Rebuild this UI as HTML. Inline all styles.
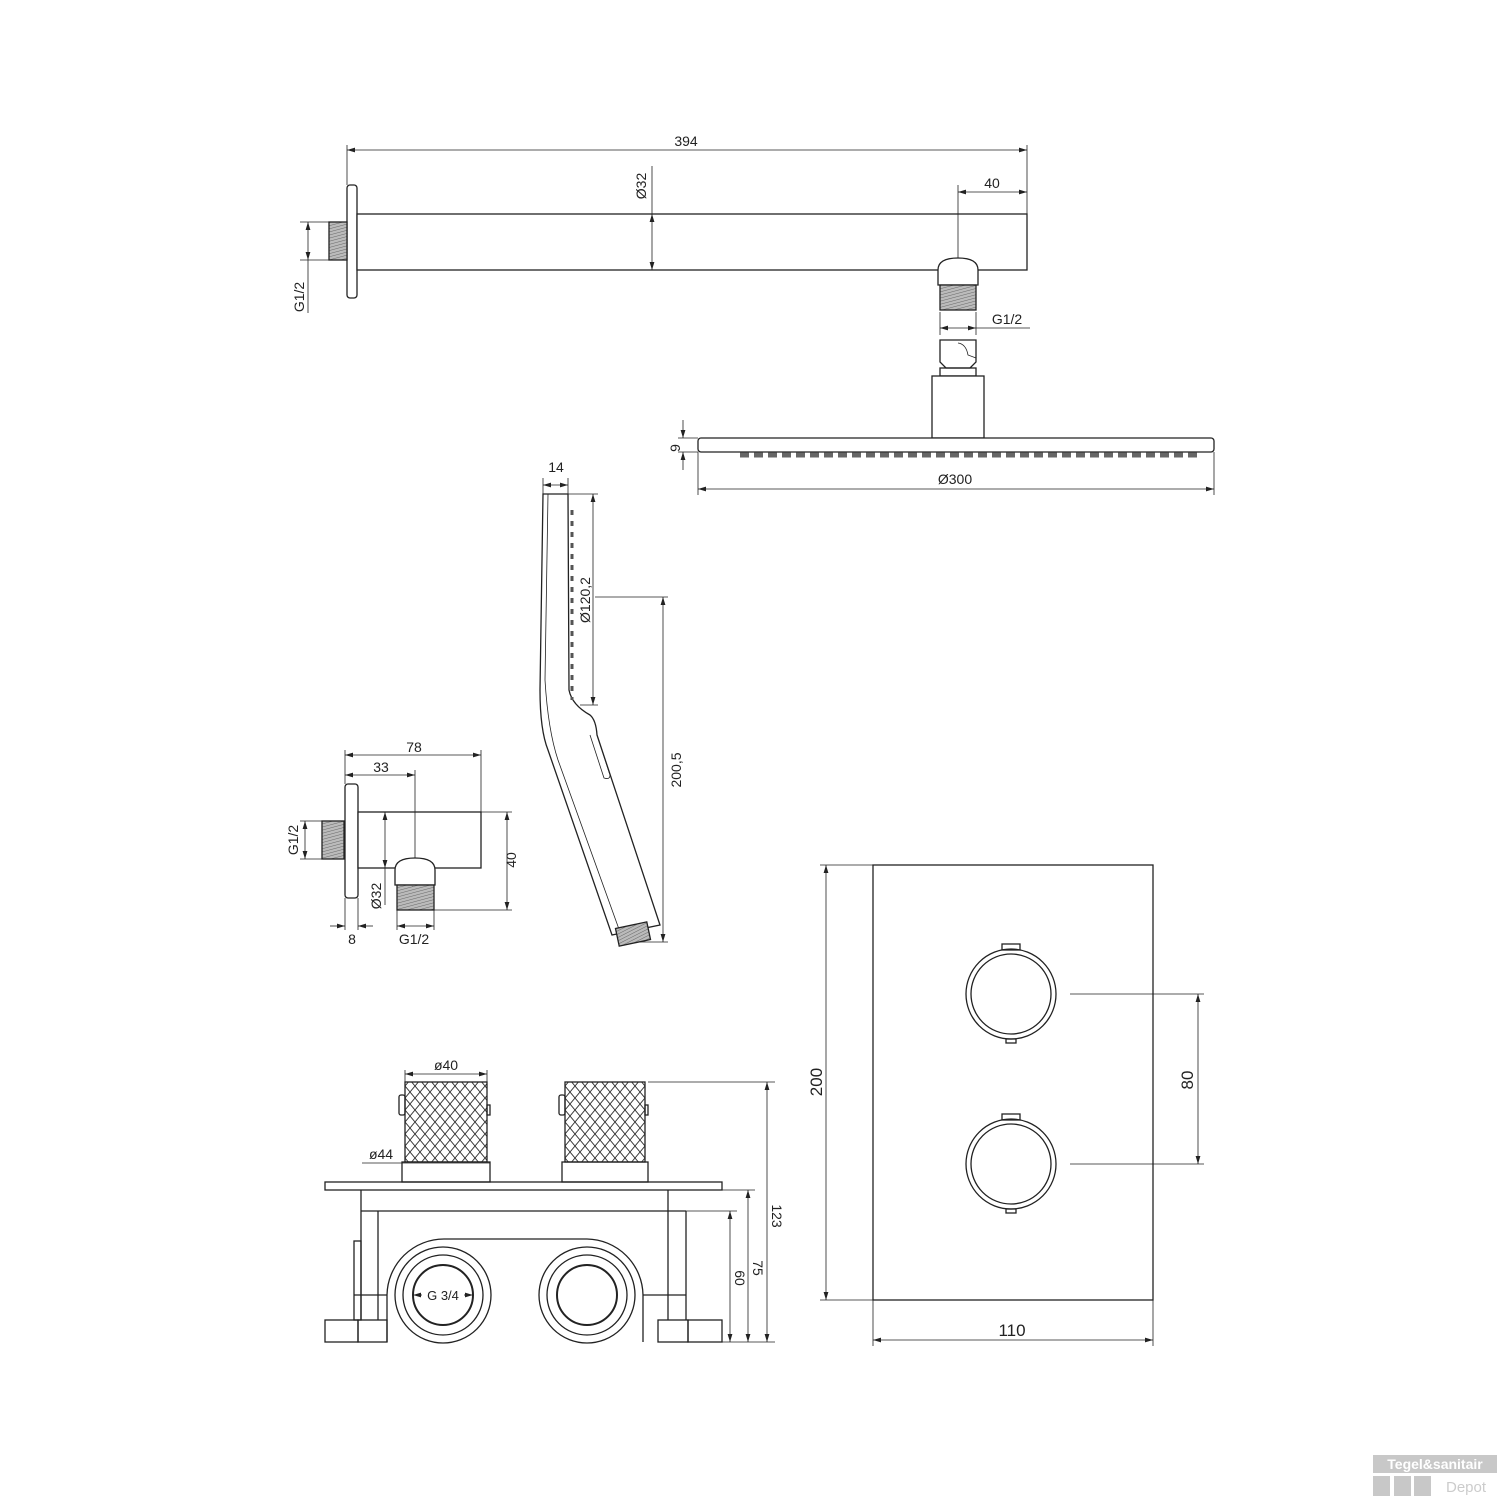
<!DOCTYPE html>
<html><head><meta charset="utf-8"><style>
html,body{margin:0;padding:0;background:#fff}
svg{display:block}
text{font-family:"Liberation Sans",sans-serif;font-size:14px;fill:#222}
</style></head><body>
<svg width="1500" height="1500" viewBox="0 0 1500 1500" xmlns="http://www.w3.org/2000/svg">
<defs>
<pattern id="th" width="3" height="3" patternUnits="userSpaceOnUse" patternTransform="rotate(75)"><rect width="3" height="3" fill="#bbb"/><line x1="0" y1="0" x2="0" y2="3" stroke="#666" stroke-width="1"/></pattern>
<pattern id="kn" width="10" height="12" patternUnits="userSpaceOnUse"><rect width="10" height="12" fill="#fff"/><path d="M0 0L10 12M10 0L0 12" stroke="#333" stroke-width="0.9"/></pattern>
<marker id="a" viewBox="0 0 10 6" refX="10" refY="3" markerWidth="10" markerHeight="6" orient="auto-start-reverse"><path d="M0 0L10 3L0 6z" fill="#222"/></marker>
</defs>
<g fill="none" stroke="#222" stroke-width="1.3">
<rect x="347" y="185" width="10" height="113" rx="3" fill="#fff"/>
<rect x="357" y="214" width="670" height="56" fill="#fff"/>
<rect x="329" y="222" width="18" height="38" fill="url(#th)"/>
<g stroke-width="0.8">
<line x1="347" y1="145" x2="347" y2="185"/><line x1="1027" y1="145" x2="1027" y2="214"/>
<line x1="347" y1="150" x2="1027" y2="150" marker-start="url(#a)" marker-end="url(#a)"/>
<line x1="652" y1="166" x2="652" y2="214"/>
<line x1="652" y1="214" x2="652" y2="270" marker-start="url(#a)" marker-end="url(#a)"/>
<line x1="958" y1="185" x2="958" y2="258"/>
<line x1="958" y1="192" x2="1027" y2="192" marker-start="url(#a)" marker-end="url(#a)"/>
<line x1="300" y1="222" x2="329" y2="222"/><line x1="300" y1="260" x2="329" y2="260"/>
<line x1="308" y1="222" x2="308" y2="260" marker-start="url(#a)" marker-end="url(#a)"/>
<line x1="308" y1="260" x2="308" y2="313"/>
</g>
<path d="M938 285 L938 270 Q938 258 958 258 Q978 258 978 270 L978 285 Z" fill="#fff"/>
<rect x="940" y="285" width="36" height="25" fill="url(#th)"/>
<g stroke-width="0.8">
<line x1="940" y1="312" x2="940" y2="335"/><line x1="976" y1="312" x2="976" y2="335"/>
<line x1="940" y1="328" x2="976" y2="328" marker-start="url(#a)" marker-end="url(#a)"/>
<line x1="976" y1="328" x2="1030" y2="328"/>
</g>
<path d="M940 340 L976 340 L976 362 L970 368 L946 368 L940 362 Z" fill="#fff"/>
<path d="M958 343 Q966 344 968 355 L976 358" stroke-width="0.8"/>
<rect x="940" y="368" width="36" height="8"/>
<rect x="932" y="376" width="52" height="62" fill="#fff"/>
<rect x="698" y="438" width="516" height="14" rx="3" fill="#fff"/>
<path d="M740 455 h460" stroke-dasharray="9 5" stroke-width="5" stroke="#666"/>
<g stroke-width="0.8">
<line x1="683" y1="420" x2="683" y2="438" marker-end="url(#a)"/><line x1="683" y1="470" x2="683" y2="452" marker-end="url(#a)"/>
<line x1="678" y1="438" x2="698" y2="438"/><line x1="678" y1="452" x2="698" y2="452"/>
<line x1="698" y1="452" x2="698" y2="495"/><line x1="1214" y1="452" x2="1214" y2="495"/>
<line x1="698" y1="489" x2="1214" y2="489" marker-start="url(#a)" marker-end="url(#a)"/>
</g>
<path d="M543 494 L568 494 L569 690 Q572 705 590 715 Q596 720 597 735 L660 925 L612 935 L548 750 Q540 730 540 690 Z" fill="#fff"/>
<path d="M548 494 Q546 600 545 680 Q548 730 558 760 L620 932" stroke-width="0.8"/>
<path d="M572 510 L572 700" stroke-width="3" stroke-dasharray="5 6" stroke="#555"/>
<path d="M597 735 L610 775 Q610 780 604 778 L590 735" stroke-width="0.8"/>
<rect x="617" y="925" width="32" height="18" fill="url(#th)" transform="rotate(-12 633 934)"/>
<g stroke-width="0.8">
<line x1="543" y1="478" x2="543" y2="494"/><line x1="568" y1="478" x2="568" y2="494"/>
<line x1="543" y1="485" x2="568" y2="485" marker-start="url(#a)" marker-end="url(#a)"/>
<line x1="568" y1="494" x2="598" y2="494"/><line x1="580" y1="705" x2="598" y2="705"/>
<line x1="593" y1="494" x2="593" y2="705" marker-start="url(#a)" marker-end="url(#a)"/>
<line x1="595" y1="597" x2="668" y2="597"/><line x1="640" y1="942" x2="668" y2="942"/>
<line x1="663" y1="597" x2="663" y2="942" marker-start="url(#a)" marker-end="url(#a)"/>
</g>
<rect x="345" y="784" width="13" height="114" rx="3" fill="#fff"/>
<rect x="358" y="812" width="123" height="56" fill="#fff"/>
<rect x="322" y="821" width="22" height="38" fill="url(#th)"/>
<path d="M395 885 L395 870 Q395 858 415 858 Q435 858 435 870 L435 885 Z" fill="#fff"/>
<rect x="397" y="885" width="37" height="25" fill="url(#th)"/>
<g stroke-width="0.8">
<line x1="345" y1="750" x2="345" y2="784"/><line x1="481" y1="750" x2="481" y2="812"/>
<line x1="345" y1="755" x2="481" y2="755" marker-start="url(#a)" marker-end="url(#a)"/>
<line x1="345" y1="775" x2="415" y2="775" marker-start="url(#a)" marker-end="url(#a)"/>
<line x1="415" y1="770" x2="415" y2="858"/>
<line x1="481" y1="812" x2="512" y2="812"/><line x1="434" y1="910" x2="512" y2="910"/>
<line x1="507" y1="812" x2="507" y2="910" marker-start="url(#a)" marker-end="url(#a)"/>
<line x1="385" y1="812" x2="385" y2="868" marker-start="url(#a)" marker-end="url(#a)"/>
<line x1="385" y1="868" x2="385" y2="905"/>
<line x1="300" y1="821" x2="322" y2="821"/><line x1="300" y1="859" x2="322" y2="859"/>
<line x1="305" y1="821" x2="305" y2="859" marker-start="url(#a)" marker-end="url(#a)"/>
<line x1="345" y1="898" x2="345" y2="930"/><line x1="358" y1="898" x2="358" y2="930"/>
<line x1="330" y1="926" x2="345" y2="926" marker-end="url(#a)"/><line x1="373" y1="926" x2="358" y2="926" marker-end="url(#a)"/>
<line x1="397" y1="910" x2="397" y2="930"/><line x1="434" y1="910" x2="434" y2="930"/>
<line x1="397" y1="926" x2="434" y2="926" marker-start="url(#a)" marker-end="url(#a)"/>
</g>
<rect x="405" y="1082" width="82" height="80" fill="url(#kn)"/>
<rect x="565" y="1082" width="80" height="80" fill="url(#kn)"/>
<rect x="399" y="1095" width="6" height="20" rx="2"/><rect x="559" y="1095" width="6" height="20" rx="2"/>
<rect x="487" y="1105" width="3" height="10"/><rect x="645" y="1105" width="3" height="10"/>
<rect x="402" y="1162" width="88" height="20"/><rect x="562" y="1162" width="86" height="20"/>
<rect x="325" y="1182" width="397" height="8"/>
<line x1="361" y1="1190" x2="361" y2="1320"/><line x1="668" y1="1190" x2="668" y2="1320"/>
<line x1="361" y1="1211" x2="686" y2="1211"/>
<line x1="378" y1="1211" x2="378" y2="1320"/><line x1="686" y1="1211" x2="686" y2="1320"/>
<rect x="354" y="1241" width="7" height="79"/>
<line x1="354" y1="1295" x2="686" y2="1295"/>
<path d="M387 1342 L387 1295 A57 57 0 0 1 444 1239 L587 1239 A57 57 0 0 1 643 1295 L643 1342" fill="#fff"/>
<circle cx="443" cy="1295" r="48" fill="#fff"/><circle cx="443" cy="1295" r="40"/><circle cx="443" cy="1295" r="30" stroke-width="2"/>
<circle cx="587" cy="1295" r="48" fill="#fff"/><circle cx="587" cy="1295" r="40"/><circle cx="587" cy="1295" r="30" stroke-width="2"/>
<rect x="325" y="1320" width="33" height="22"/><rect x="358" y="1320" width="29" height="22"/>
<rect x="658" y="1320" width="30" height="22"/><rect x="688" y="1320" width="34" height="22"/>
<g stroke-width="0.8">
<line x1="416" y1="1295" x2="470" y2="1295" stroke="#fff" stroke-width="4"/>
<line x1="413" y1="1295" x2="422" y2="1295" marker-start="url(#a)"/><line x1="464" y1="1295" x2="473" y2="1295" marker-end="url(#a)"/>
<line x1="405" y1="1074" x2="487" y2="1074" marker-start="url(#a)" marker-end="url(#a)"/>
<line x1="405" y1="1070" x2="405" y2="1082"/><line x1="487" y1="1070" x2="487" y2="1082"/>
<line x1="362" y1="1163" x2="490" y2="1163"/>
<line x1="648" y1="1082" x2="775" y2="1082"/>
<line x1="722" y1="1190" x2="755" y2="1190"/><line x1="686" y1="1211" x2="737" y2="1211"/>
<line x1="767" y1="1082" x2="767" y2="1342" marker-start="url(#a)" marker-end="url(#a)"/>
<line x1="748" y1="1190" x2="748" y2="1342" marker-start="url(#a)" marker-end="url(#a)"/>
<line x1="730" y1="1211" x2="730" y2="1342" marker-start="url(#a)" marker-end="url(#a)"/>
<line x1="722" y1="1342" x2="775" y2="1342"/>
</g>
<rect x="873" y="865" width="280" height="435" fill="#fff"/>
<circle cx="1011" cy="994" r="45"/><circle cx="1011" cy="994" r="40"/>
<circle cx="1011" cy="1164" r="45"/><circle cx="1011" cy="1164" r="40"/>
<rect x="1002" y="944" width="18" height="6"/><rect x="1006" y="1039" width="10" height="4"/>
<rect x="1002" y="1114" width="18" height="6"/><rect x="1006" y="1209" width="10" height="4"/>
<g stroke-width="0.8">
<line x1="820" y1="865" x2="873" y2="865"/><line x1="820" y1="1300" x2="873" y2="1300"/>
<line x1="826" y1="865" x2="826" y2="1300" marker-start="url(#a)" marker-end="url(#a)"/>
<line x1="873" y1="1300" x2="873" y2="1346"/><line x1="1153" y1="1300" x2="1153" y2="1346"/>
<line x1="873" y1="1340" x2="1153" y2="1340" marker-start="url(#a)" marker-end="url(#a)"/>
<line x1="1070" y1="994" x2="1204" y2="994"/><line x1="1070" y1="1164" x2="1204" y2="1164"/>
<line x1="1198" y1="994" x2="1198" y2="1164" marker-start="url(#a)" marker-end="url(#a)"/>
</g>
</g>
<text x="686" y="146" text-anchor="middle">394</text>
<text x="992" y="188" text-anchor="middle">40</text>
<text transform="translate(646,186) rotate(-90)" text-anchor="middle">Ø32</text>
<text transform="translate(304,297) rotate(-90)" text-anchor="middle">G1/2</text>
<text x="1007" y="324" text-anchor="middle">G1/2</text>
<text transform="translate(680,448) rotate(-90)" text-anchor="middle">9</text>
<text x="955" y="484" text-anchor="middle">Ø300</text>
<text x="556" y="472" text-anchor="middle">14</text>
<text transform="translate(590,600) rotate(-90)" text-anchor="middle">Ø120,2</text>
<text transform="translate(681,770) rotate(-90)" text-anchor="middle">200,5</text>
<text x="414" y="752" text-anchor="middle">78</text>
<text x="381" y="772" text-anchor="middle">33</text>
<text transform="translate(298,840) rotate(-90)" text-anchor="middle">G1/2</text>
<text transform="translate(516,860) rotate(-90)" text-anchor="middle">40</text>
<text transform="translate(381,896) rotate(-90)" text-anchor="middle">Ø32</text>
<text x="352" y="944" text-anchor="middle">8</text>
<text x="414" y="944" text-anchor="middle">G1/2</text>
<text x="446" y="1070" text-anchor="middle">ø40</text>
<text x="381" y="1159" text-anchor="middle">ø44</text>
<text x="443" y="1300" text-anchor="middle" style="font-size:13px">G 3/4</text>
<text transform="translate(772,1216) rotate(90)" text-anchor="middle">123</text>
<text transform="translate(753,1268) rotate(90)" text-anchor="middle">75</text>
<text transform="translate(735,1278) rotate(90)" text-anchor="middle">60</text>
<text transform="translate(822,1082) rotate(-90)" text-anchor="middle" style="font-size:17px">200</text>
<text x="1012" y="1336" text-anchor="middle" style="font-size:17px">110</text>
<text transform="translate(1193,1080) rotate(-90)" text-anchor="middle" style="font-size:17px">80</text>
<rect x="1373" y="1455" width="124" height="18" fill="#c8c8c8"/>
<text x="1435" y="1469" text-anchor="middle" style="font-size:14px;font-weight:bold;fill:#fff">Tegel&amp;sanitair</text>
<rect x="1373" y="1476" width="17" height="20" fill="#c8c8c8"/>
<rect x="1394" y="1476" width="17" height="20" fill="#c8c8c8"/>
<rect x="1414" y="1476" width="17" height="20" fill="#c8c8c8"/>
<text x="1446" y="1492" style="font-size:15px;fill:#ccc">Depot</text>
</svg>
</body></html>
